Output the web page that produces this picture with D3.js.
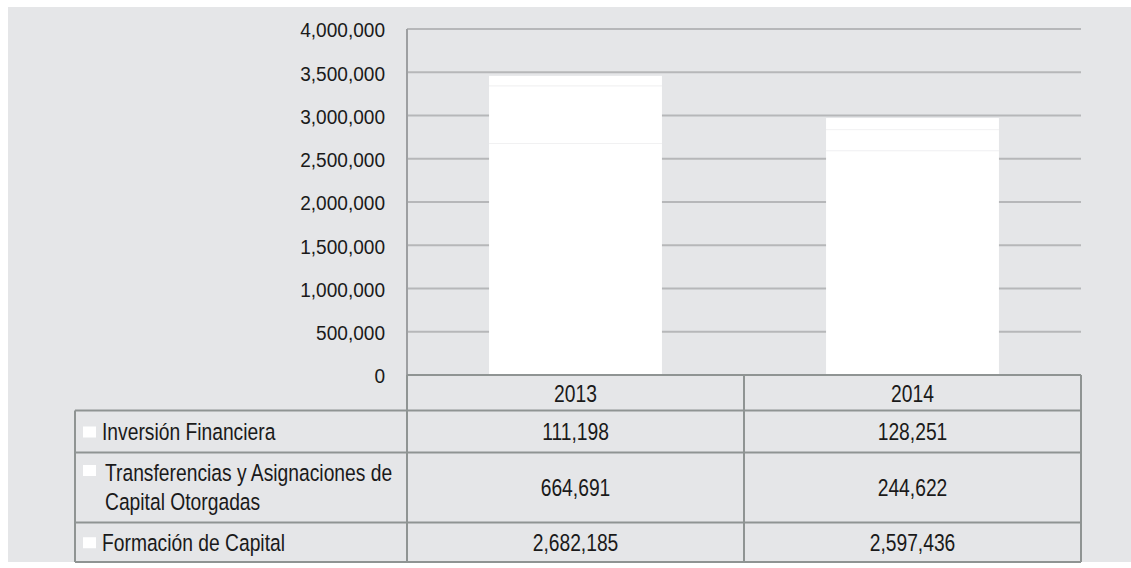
<!DOCTYPE html>
<html>
<head>
<meta charset="utf-8">
<script src="https://cdn.jsdelivr.net/npm/d3@7"></script>
<style>
  body { margin: 0; background: #ffffff; }
  svg text { font-family: "Liberation Sans", Arial, sans-serif; fill: #1a1a1a; }
</style>
</head>
<body>
<script>
// datos
const anios = ["2013", "2014"]
const series = ["Formación de Capital", "Transferencias y Asignaciones de Capital Otorgadas", "Inversión Financiera"]
const formacion = [2682185, 2597436]
const transferencias = [664691, 244622]
const inversion = [111198, 128251]
const ticksY = [0, 500000, 1000000, 1500000, 2000000, 2500000, 3000000, 3500000, 4000000]

// filas de la tabla (orden de arriba a abajo)
const filas = [
    { nombre: ["Inversión Financiera"], valores: inversion },
    { nombre: ["Transferencias y Asignaciones de", "Capital Otorgadas"], valores: transferencias },
    { nombre: ["Formación de Capital"], valores: formacion }
]

const W = 1131, H = 568
const fmt = d3.format(",")

var svg = d3.select("body").append("svg")
    .attr("width", W)
    .attr("height", H)

// texto estrecho: Liberation Sans comprimido en horizontal
function texto(g, tx, ty, t, anchor, size, sx) {
    return g.append("text")
        .attr("transform", "translate(" + tx + "," + ty + ") scale(" + sx + ",1)")
        .attr("dy", "0.36em")
        .attr("text-anchor", anchor)
        .style("font-size", size + "px")
        .text(t)
}

// fondo gris
svg.append("rect")
    .attr("x", 8).attr("y", 7)
    .attr("width", W - 8).attr("height", 555)
    .attr("fill", "#e5e6e8")

var x = d3.scaleBand()
    .domain(anios)
    .range([407, 1081])
    .paddingInner(0.487)
    .paddingOuter(0.2435)

var y = d3.scaleLinear()
    .domain([0, 4000000])
    .range([375, 29])

// rejilla
svg.append("g")
    .selectAll("line")
    .data(ticksY.filter(d => d > 0))
    .enter().append("line")
    .attr("x1", 407).attr("x2", 1081)
    .attr("y1", d => y(d)).attr("y2", d => y(d))
    .attr("stroke", "#b6b7b9")
    .attr("stroke-width", 2)

// etiquetas eje Y
var ejeY = svg.append("g")
ticksY.forEach(d => texto(ejeY, 385, y(d) + 1, fmt(d), "end", 20.5, 0.93))

// barras apiladas
const datosApilados = anios.map((a, i) => ({
    anio: a,
    "Formación de Capital": formacion[i],
    "Transferencias y Asignaciones de Capital Otorgadas": transferencias[i],
    "Inversión Financiera": inversion[i]
}))
const pila = d3.stack().keys(series)(datosApilados)

svg.append("g")
    .selectAll("g")
    .data(pila)
    .enter().append("g")
    .selectAll("rect")
    .data(d => d)
    .enter().append("rect")
    .attr("x", d => x(d.data.anio))
    .attr("width", x.bandwidth())
    .attr("y", d => y(d[1]))
    .attr("height", d => y(d[0]) - y(d[1]))
    .attr("fill", "#ffffff")

// lineas tenues entre segmentos
svg.append("g")
    .selectAll("g")
    .data(pila.slice(0, 2))
    .enter().append("g")
    .selectAll("line")
    .data(d => d)
    .enter().append("line")
    .attr("x1", d => x(d.data.anio))
    .attr("x2", d => x(d.data.anio) + x.bandwidth())
    .attr("y1", d => y(d[1]) + 0.5)
    .attr("y2", d => y(d[1]) + 0.5)
    .attr("stroke", "#f1f1f2")
    .attr("stroke-width", 1)

// eje Y vertical
svg.append("line")
    .attr("x1", 407).attr("x2", 407)
    .attr("y1", y(4000000)).attr("y2", 375)
    .attr("stroke", "#9d9fa1")
    .attr("stroke-width", 2)

// tabla
const borde = "#8f9493"
const izq = 75
const colBordes = [407, 407 + x.step(), 1081]
const filaY = [375, 410.5, 452.5, 522.5, 562]
const fs = 23.5, sx = 0.82

var tabla = svg.append("g")

// horizontales
tabla.append("line")
    .attr("x1", 407).attr("x2", 1081)
    .attr("y1", filaY[0]).attr("y2", filaY[0])
    .attr("stroke", borde).attr("stroke-width", 2)
filaY.slice(1).forEach(yy => {
    tabla.append("line")
        .attr("x1", izq).attr("x2", 1081)
        .attr("y1", yy).attr("y2", yy)
        .attr("stroke", borde).attr("stroke-width", 2)
})
// verticales
tabla.append("line")
    .attr("x1", izq).attr("x2", izq)
    .attr("y1", filaY[1]).attr("y2", filaY[4])
    .attr("stroke", borde).attr("stroke-width", 2)
colBordes.forEach(xx => {
    tabla.append("line")
        .attr("x1", xx).attr("x2", xx)
        .attr("y1", filaY[0]).attr("y2", filaY[4])
        .attr("stroke", borde).attr("stroke-width", 2)
})

// encabezado años
anios.forEach(a => texto(tabla, x(a) + x.bandwidth() / 2, (filaY[0] + filaY[1]) / 2 + 1, a, "middle", fs, sx))

filas.forEach((f, i) => {
    const y0 = filaY[i + 1], y1 = filaY[i + 2]
    const cy = (y0 + y1) / 2
    // cuadrito de leyenda
    tabla.append("rect")
        .attr("x", 83).attr("y", f.nombre.length > 1 ? y0 + 12.5 : cy - 5)
        .attr("width", 13).attr("height", 11)
        .attr("fill", "#ffffff")
    f.nombre.forEach((t, j) => {
        texto(tabla, f.nombre.length > 1 ? 105 : 102, cy + (j - (f.nombre.length - 1) / 2) * 29, t, "start", fs, sx)
    })
    anios.forEach((a, k) => {
        texto(tabla, x(a) + x.bandwidth() / 2, cy, fmt(f.valores[k]), "middle", fs, sx)
    })
})
</script>
</body>
</html>
